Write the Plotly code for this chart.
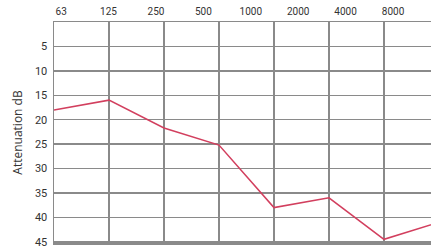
import plotly.graph_objects as go

freq_labels = ["63", "125", "250", "500", "1000", "2000", "4000", "8000"]
attenuation = [18, 16, 21.7, 25.2, 38, 36, 44.5, 41]
y_ticks = [5, 10, 15, 20, 25, 30, 35, 40, 45]

idx = list(range(len(freq_labels)))
# top labels in the original are spaced a bit tighter than the grid
label_pos = [0.13 + 0.862 * i for i in idx]

fig = go.Figure()
fig.add_trace(go.Scatter(
    x=idx, y=attenuation, mode="lines",
    line=dict(color="#d23f5e", width=1.5),
    showlegend=False, hoverinfo="skip",
))

fig.add_shape(type="line", xref="paper", yref="y", x0=0, x1=1, y0=35, y1=35,
              line=dict(color="#2a2a2a", width=1.5), layer="below")

fig.update_layout(
    width=431, height=246,
    margin=dict(l=54, r=0, t=22, b=3),
    paper_bgcolor="white", plot_bgcolor="white",
    font=dict(family="Roboto, sans-serif", size=10, color="#333333"),
    xaxis=dict(
        side="top", range=[0, 6.855], automargin=False,
        tickvals=label_pos, ticktext=freq_labels, ticks="",
        showgrid=False, zeroline=False,
        showline=True, linecolor="#8a8a8a", linewidth=1.5, mirror=True,
        minor=dict(tickvals=idx, showgrid=True, gridcolor="#8a8a8a", gridwidth=1.5, ticks=""),
        tickfont=dict(size=10), ticklabelstandoff=2, ticklabeloverflow="allow",
    ),
    yaxis=dict(
        range=[45.25, 0], tickvals=y_ticks, ticks="", automargin=False,
        showgrid=True, gridcolor="#8a8a8a", gridwidth=1.5, zeroline=False,
        showline=True, linecolor="#8a8a8a", linewidth=1.5, mirror=True,
        title=dict(text="Attenuation dB", font=dict(size=12, family="Open Sans, sans-serif"), standoff=9),
        tickfont=dict(size=11),
        ticklabelstandoff=3, ticklabeloverflow="allow",
    ),
)

fig.write_html(
    "out.html",
    config={"displayModeBar": False, "staticPlot": True},
    post_script="document.body.style.margin='0';document.body.style.overflow='hidden';",
)
